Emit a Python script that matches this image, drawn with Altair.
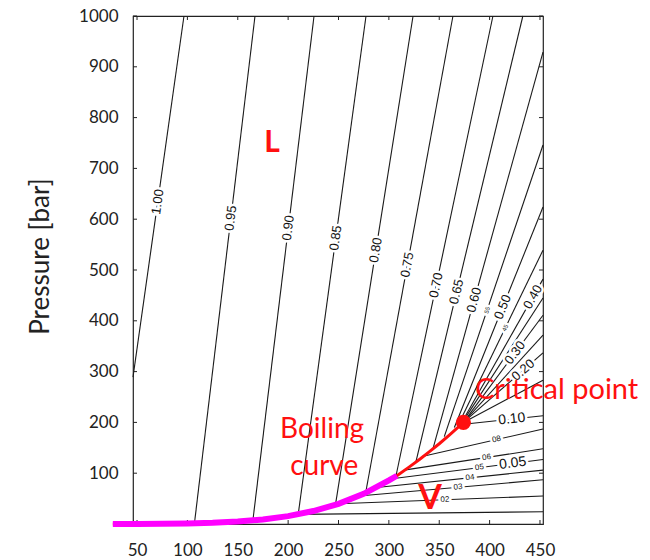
import math
import numpy as np
import pandas as pd
import altair as alt

# ---- plot geometry -------------------------------------------------------
W, H = 410, 508
X_DOM = [46, 453]          # temperature [°C]
Y_DOM = [0, 1000]          # pressure [bar]
X_TICKS = [50, 100, 150, 200, 250, 300, 350, 400, 450]
Y_TICKS = [100, 200, 300, 400, 500, 600, 700, 800, 900, 1000]

# ---- boiling (saturation) curve of water ---------------------------------
boil_t = [26, 50, 75, 100, 125, 150, 175, 200, 225, 250, 275, 300, 308, 320, 331, 340, 350, 360, 368, 374]
boil_p = [0, 0.1, 0.4, 1.0, 2.3, 4.8, 8.9, 15.5, 25.5, 39.7, 59.5, 85.9, 95, 112, 128, 142, 158, 175, 189, 200]
# highlighted low-temperature stretch
hl_t = [26, 50, 75, 100, 125, 150, 175, 200, 225, 250, 275, 300, 308]
hl_p = [0, 0.1, 0.4, 1.0, 2.3, 4.8, 8.9, 15.5, 25.5, 39.7, 59.5, 85.9, 95]

crit_t = [374]
crit_p = [200]

# ---- isochores (density in g/cm3): points along each line ----------------
iso_t = {
    "1.00": [46, 96.6],
    "0.95": [107, 167.1],
    "0.90": [165, 225.7],
    "0.85": [210, 277.3],
    "0.80": [247, 324],
    "0.75": [277, 363.6],
    "0.70": [307, 403.3],
    "0.65": [327, 433],
    "0.60": [344, 453],
    "0.55": [355, 453],
    "0.50": [365, 453],
    "0.45": [369, 453],
    "0.40": [372, 453],
    "0.35": [373, 453],
    "0.30": [374, 453],
    "0.25": [374, 453],
    "0.20": [374, 453],
    "0.15": [374, 453],
    "0.10": [350, 372, 453],
    "0.08": [333, 453],
    "0.06": [315, 453],
    "0.05": [303, 453],
    "0.04": [288, 453],
    "0.03": [270, 453],
    "0.02": [250, 453],
    "0.01": [210, 453],
}
iso_p = {
    "1.00": [289, 1000],
    "0.95": [1.3, 1000],
    "0.90": [7, 1000],
    "0.85": [19, 1000],
    "0.80": [38, 1000],
    "0.75": [62, 1000],
    "0.70": [94, 1000],
    "0.65": [124, 1000],
    "0.60": [150, 929],
    "0.55": [172, 746],
    "0.50": [190, 624],
    "0.45": [196, 539],
    "0.40": [199, 482],
    "0.35": [200, 445],
    "0.30": [200, 411],
    "0.25": [200, 372],
    "0.20": [200, 337],
    "0.15": [200, 283],
    "0.10": [158, 196, 213],
    "0.08": [133, 187],
    "0.06": [106, 148],
    "0.05": [89, 127],
    "0.04": [72, 106],
    "0.03": [55, 87],
    "0.02": [40, 55],
    "0.01": [19, 24],
}

# contour labels: text, isochore, where it sits (by pressure "p" or temperature "t"), font size
lab_text = ["1.00", "0.95", "0.90", "0.85", "0.80", "0.75", "0.70", "0.65", "0.60",
            "55", "0.50", "45", "0.40", "0.30", "0.20", "0.10",
            "08", "06", "05", "0.05", "04", "03", "02"]
lab_line = ["1.00", "0.95", "0.90", "0.85", "0.80", "0.75", "0.70", "0.65", "0.60",
            "0.55", "0.50", "0.45", "0.40", "0.30", "0.20", "0.10",
            "0.08", "0.06", "0.05", "0.05", "0.04", "0.03", "0.02"]
lab_by = ["p"] * 15 + ["t"] * 8
lab_at = [634, 602, 583, 563, 539, 510, 470, 457, 441,
          421, 427, 386, 447, 337, 303,
          422, 407, 397, 390, 423, 380.5, 368.6, 355.7]
lab_size = [13, 13, 13, 13, 13, 13, 13, 13, 13,
            6, 13, 6, 13, 13, 13, 14,
            8, 8, 8, 14, 8, 8, 8]

# ---- build tables ----------------------------------------------------------
rows = []
for lev in iso_t:
    for i, (t, p) in enumerate(zip(iso_t[lev], iso_p[lev])):
        rows.append({"level": lev, "i": i, "t": t, "p": p})
iso_df = pd.DataFrame(rows)


def screen_angle(ts, ps, t):
    """Rotation (deg) of a label sitting on the polyline at temperature t."""
    k = int(np.clip(np.searchsorted(ts, t) - 1, 0, len(ts) - 2))
    dx = (ts[k + 1] - ts[k]) * W / (X_DOM[1] - X_DOM[0])
    dy = -(ps[k + 1] - ps[k]) * H / (Y_DOM[1] - Y_DOM[0])
    return math.degrees(math.atan2(dy, dx)) % 360


lab_rows = []
for txt, lev, by, at, fs in zip(lab_text, lab_line, lab_by, lab_at, lab_size):
    ts, ps = iso_t[lev], iso_p[lev]
    if by == "p":
        p = at
        t = float(np.interp(p, ps, ts))
    else:
        t = at
        p = float(np.interp(t, ts, ps))
    lab_rows.append({"label": txt, "t": t, "p": p,
                     "angle": screen_angle(ts, ps, t), "fs": fs})
lab_df = pd.DataFrame(lab_rows)

boil_df = pd.DataFrame({"t": boil_t, "p": boil_p})
hl_df = pd.DataFrame({"t": hl_t, "p": hl_p})
crit_df = pd.DataFrame({"t": crit_t, "p": crit_p})

# ---- shared encodings ------------------------------------------------------
X = alt.X("t:Q", scale=alt.Scale(domain=X_DOM, nice=False, zero=False),
          axis=alt.Axis(values=X_TICKS, title=None, ticks=False, domain=False,
                        grid=False, labelPadding=18, labelFontSize=17,
                        labelFont="Lato", labelColor="#222", format="d"))
Y = alt.Y("p:Q", scale=alt.Scale(domain=Y_DOM, nice=False, zero=False),
          axis=alt.Axis(values=Y_TICKS, title="Pressure [bar]", ticks=False,
                        domain=False, grid=False, labelPadding=15, format="d",
                        labelFontSize=17, labelFont="Lato", labelColor="#222",
                        titleFont="Lato", titleFontSize=26, titleFontWeight="normal",
                        titleColor="#222", titleAngle=270, titleX=-93, titleY=240,
                        titleBaseline="middle", titleAlign="center"))

lines = alt.Chart(iso_df).mark_line(color="#1a1a1a", strokeWidth=1.1).encode(
    x=X, y=Y, detail="level:N", order="i:Q")

ticks_df = pd.DataFrame({"p": Y_TICKS})
xt_df = pd.DataFrame({"t": X_TICKS})
tick_l = alt.Chart(ticks_df).mark_rule(color="#222").encode(
    y=Y, x=alt.value(0), x2=alt.value(4))
tick_r = alt.Chart(ticks_df).mark_rule(color="#222").encode(
    y=Y, x=alt.value(W - 4), x2=alt.value(W))
tick_b = alt.Chart(xt_df).mark_rule(color="#222").encode(
    x=X, y=alt.value(H - 4), y2=alt.value(H))
tick_t = alt.Chart(xt_df).mark_rule(color="#222").encode(
    x=X, y=alt.value(0), y2=alt.value(4))

halo = alt.Chart(lab_df).mark_text(
    font="Liberation Sans", stroke="white", strokeWidth=5, fill="white",
    align="center", baseline="middle").encode(
    x=X, y=Y, text="label:N", angle=alt.Angle("angle:Q", scale=None),
    size=alt.Size("fs:Q", scale=None, legend=None))
labels = alt.Chart(lab_df).mark_text(
    font="Liberation Sans", color="#111", align="center", baseline="middle").encode(
    x=X, y=Y, text="label:N", angle=alt.Angle("angle:Q", scale=None),
    size=alt.Size("fs:Q", scale=None, legend=None))

boil = alt.Chart(boil_df).mark_line(color="#ff1010", strokeWidth=3, clip=False).encode(x=X, y=Y)
hl = alt.Chart(hl_df).mark_line(color="#ff00ff", strokeWidth=6, clip=False).encode(x=X, y=Y)
crit = alt.Chart(crit_df).mark_circle(color="#ff1010", opacity=1, size=230).encode(x=X, y=Y)

# ---- annotations -----------------------------------------------------------
ann_text = ["L", "V", "Critical point", "Boiling", "curve"]
ann_t = [184, 341, 385.5, 192, 202]
ann_p = [750, 49, 264, 185, 112]
ann_size = [30, 34, 29, 28, 28]
ann_weight = ["bold", "bold", "normal", "normal", "normal"]
ann_df = pd.DataFrame({"label": ann_text, "t": ann_t, "p": ann_p, "fs": ann_size, "w": ann_weight})

ann_bold = alt.Chart(ann_df[ann_df.w == "bold"]).mark_text(
    font="Lato", fontWeight="bold", color="#ff1010", align="center", baseline="middle").encode(
    x=X, y=Y, text="label:N", size=alt.Size("fs:Q", scale=None, legend=None))
ann_norm = alt.Chart(ann_df[ann_df.w == "normal"]).mark_text(
    font="Lato", color="#ff1010", align="left", baseline="middle", clip=False).encode(
    x=X, y=Y, text="label:N", size=alt.Size("fs:Q", scale=None, legend=None))

chart = alt.layer(
    lines, tick_l, tick_r, tick_b, tick_t, halo, labels, boil, hl, crit, ann_bold, ann_norm
).properties(
    width=W, height=H,
    autosize=alt.AutoSizeParams(type="none"),
    padding={"left": 133, "top": 16, "right": 107, "bottom": 36},
    background="white",
).configure_view(stroke="#222", strokeWidth=1.2)

chart.save("out.html", embed_options={"renderer": "svg", "actions": False})
